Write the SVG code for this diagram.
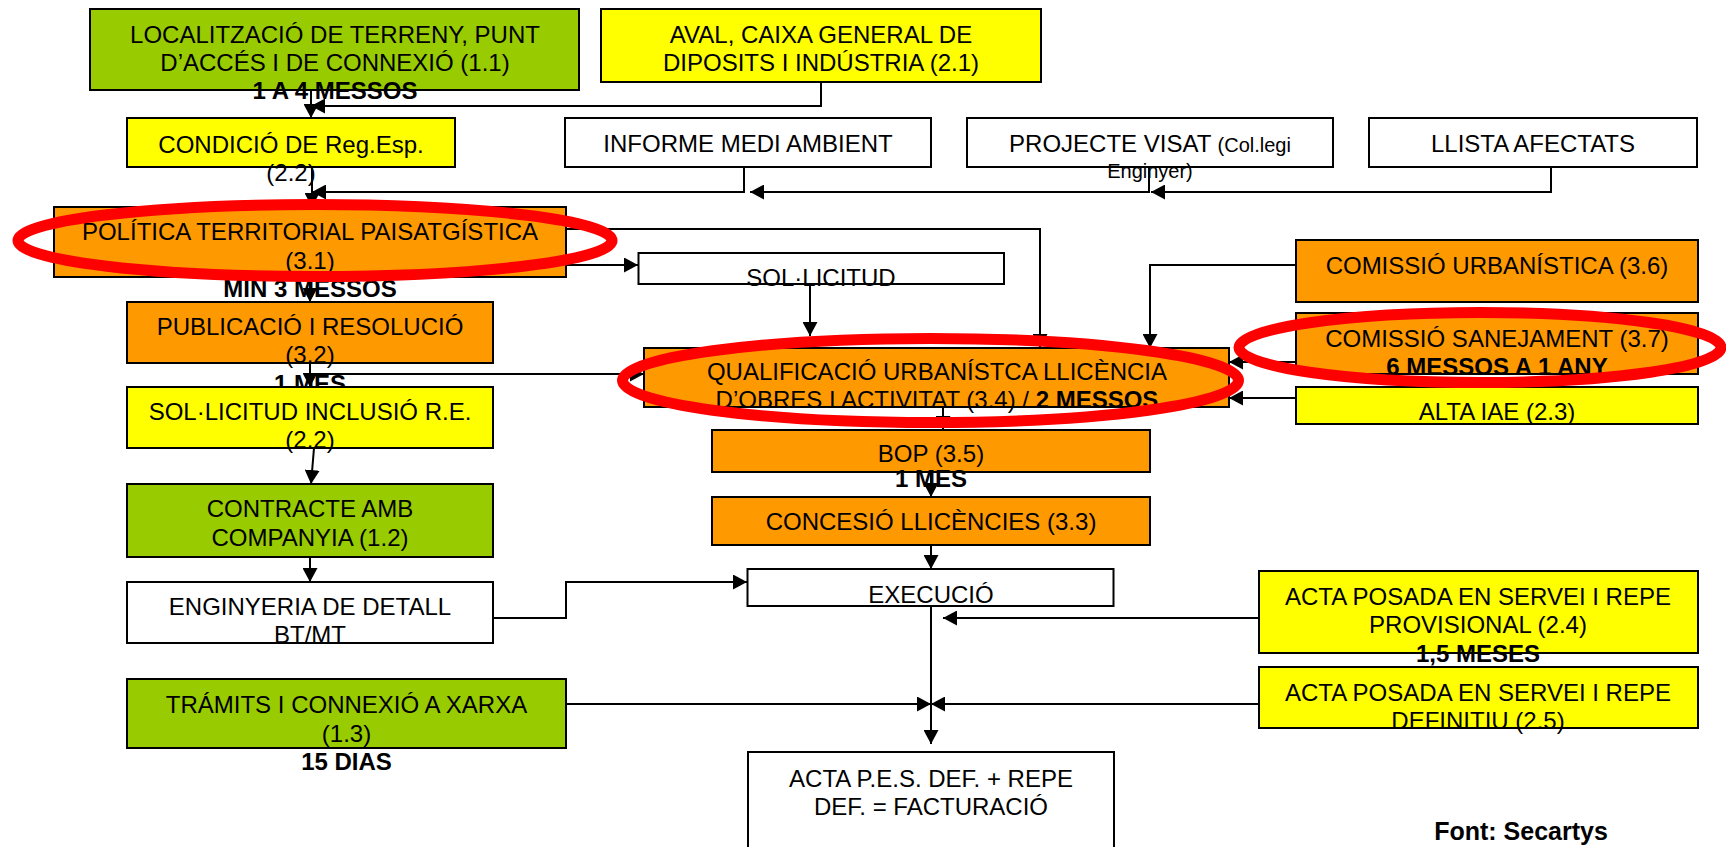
<svg xmlns="http://www.w3.org/2000/svg" width="1726" height="847" viewBox="0 0 1726 847">
<style>
text{font-family:"Liberation Sans",Arial,sans-serif;font-size:24px;fill:#000;text-anchor:middle}
.b{font-weight:bold}
.s{font-size:20px}
rect{stroke:#000;stroke-width:2}
.g{fill:#99CC00}.y{fill:#FFFF00}.o{fill:#FF9900}.w{fill:#FFFFFF}
.c path{fill:none;stroke:#000;stroke-width:2;marker-end:url(#ah)}
.hl{fill:none;stroke:#FF0000;stroke-width:11}
</style>
<defs>
<marker id="ah" markerUnits="userSpaceOnUse" markerWidth="14" markerHeight="15" refX="14" refY="7.5" orient="auto">
<path d="M0,0 L14,7.5 L0,15 z" fill="#000"/>
</marker>
</defs>

<g id="n11"><rect class="g" x="90" y="9" width="489" height="81"/><text x="335" y="43">LOCALITZACIÓ DE TERRENY, PUNT</text><text x="335" y="71">D’ACCÉS I DE CONNEXIÓ (1.1)</text><text class="b" x="335" y="99">1 A 4 MESSOS</text></g>
<g id="n21"><rect class="y" x="601" y="9" width="440" height="73"/><text x="821" y="43">AVAL, CAIXA GENERAL DE</text><text x="821" y="71">DIPOSITS I INDÚSTRIA (2.1)</text></g>
<g id="n22a"><rect class="y" x="127" y="118" width="328" height="49"/><text x="291" y="153">CONDICIÓ DE Reg.Esp.</text><text x="291" y="181">(2.2)</text></g>
<g id="informe"><rect class="w" x="565" y="118" width="366" height="49"/><text x="748" y="152">INFORME MEDI AMBIENT</text></g>
<g id="projecte"><rect class="w" x="967" y="118" width="366" height="49"/><text x="1150" y="152">PROJECTE VISAT <tspan class="s">(Col.legi</tspan></text><text class="s" x="1150" y="178">Enginyer)</text></g>
<g id="llista"><rect class="w" x="1369" y="118" width="328" height="49"/><text x="1533" y="152">LLISTA AFECTATS</text></g>
<g id="n31"><rect class="o" x="54" y="207" width="512" height="70"/><text x="310" y="240">POLÍTICA TERRITORIAL PAISATGÍSTICA</text><text x="310" y="269">(3.1)</text><text class="b" x="310" y="297">MIN 3 MESSOS</text></g>
<g id="sollicitud"><rect class="w" x="638.5" y="253" width="365.5" height="31"/><text x="821" y="286">SOL·LICITUD</text></g>
<g id="n36"><rect class="o" x="1296" y="240" width="402" height="62"/><text x="1497" y="274">COMISSIÓ URBANÍSTICA (3.6)</text></g>
<g id="n32"><rect class="o" x="127" y="302" width="366" height="61"/><text x="310" y="335">PUBLICACIÓ I RESOLUCIÓ</text><text x="310" y="363">(3.2)</text><text class="b" x="310" y="392">1 MES</text></g>
<g id="n37"><rect class="o" x="1296" y="313" width="402" height="61"/><text x="1497" y="347">COMISSIÓ SANEJAMENT (3.7)</text><text class="b" x="1497" y="375">6 MESSOS A 1 ANY</text></g>
<g id="n34"><rect class="o" x="644" y="348" width="585" height="59"/><text x="937" y="380">QUALIFICACIÓ URBANÍSTCA LLICÈNCIA</text><text x="937" y="408">D’OBRES I ACTIVITAT (3.4) / <tspan class="b">2 MESSOS</tspan></text></g>
<g id="n23"><rect class="y" x="1296" y="387" width="402" height="37"/><text x="1497" y="420">ALTA IAE (2.3)</text></g>
<g id="n22b"><rect class="y" x="127" y="387" width="366" height="61"/><text x="310" y="420">SOL·LICITUD INCLUSIÓ R.E.</text><text x="310" y="448">(2.2)</text></g>
<g id="n35"><rect class="o" x="712" y="430" width="438" height="42"/><text x="931" y="462">BOP (3.5)</text><text class="b" x="931" y="487">1 MES</text></g>
<g id="n12"><rect class="g" x="127" y="484" width="366" height="73"/><text x="310" y="517">CONTRACTE AMB</text><text x="310" y="546">COMPANYIA (1.2)</text></g>
<g id="n33"><rect class="o" x="712" y="497" width="438" height="48"/><text x="931" y="530">CONCESIÓ LLICÈNCIES (3.3)</text></g>
<g id="execucio"><rect class="w" x="747.5" y="569" width="366" height="37"/><text x="931" y="603">EXECUCIÓ</text></g>
<g id="n24"><rect class="y" x="1259" y="571" width="439" height="82"/><text x="1478" y="605">ACTA POSADA EN SERVEI I REPE</text><text x="1478" y="633">PROVISIONAL (2.4)</text><text class="b" x="1478" y="662">1,5 MESES</text></g>
<g id="n25"><rect class="y" x="1259" y="667" width="439" height="61"/><text x="1478" y="701">ACTA POSADA EN SERVEI I REPE</text><text x="1478" y="729">DEFINITIU (2.5)</text></g>
<g id="enginyeria"><rect class="w" x="127" y="582" width="366" height="61"/><text x="310" y="615">ENGINYERIA DE DETALL</text><text x="310" y="643">BT/MT</text></g>
<g id="n13"><rect class="g" x="127" y="679" width="439" height="69"/><text x="346.5" y="713">TRÁMITS I CONNEXIÓ A XARXA</text><text x="346.5" y="742">(1.3)</text><text class="b" x="346.5" y="770">15 DIAS</text></g>
<g id="facturacio"><rect class="w" x="748" y="752" width="366" height="110"/><text x="931" y="787">ACTA P.E.S. DEF. + REPE</text><text x="931" y="815">DEF. = FACTURACIÓ</text></g>
<g id="font"><text class="b" x="1521" y="840" style="font-size:25px">Font: Secartys</text></g>

<g id="connectors" class="c">
<path d="M311,90 V118"/>
<path d="M821,82 V106 H311"/>
<path d="M312,167 V207"/>
<path d="M1551,167 V192 H1151"/>
<path d="M1149,167 V192 H750"/>
<path d="M744,167 V192 H312"/>
<path d="M566,265 H638"/>
<path d="M566,229 H1040 V348"/>
<path d="M810,284 V336"/>
<path d="M1296,265 H1150 V348"/>
<path d="M310,277 V302"/>
<path d="M310,363 V387"/>
<path d="M310,374 H644"/>
<path d="M1296,362 H1229"/>
<path d="M1296,398 H1229"/>
<path d="M943,407 V430"/>
<path d="M931,472 V497"/>
<path d="M931,545 V569"/>
<path d="M314,448 L311,484"/>
<path d="M310,557 V582"/>
<path d="M493,618 H566 V582 H747"/>
<path d="M931,606 V744"/>
<path d="M1259,618 H943"/>
<path d="M566,704 H931"/>
<path d="M1259,704 H931"/>
</g>

<g id="highlights">
<ellipse class="hl" cx="315" cy="240.5" rx="297" ry="36"/>
<ellipse class="hl" cx="930.5" cy="380.5" rx="308" ry="42"/>
<ellipse class="hl" cx="1480" cy="347.5" rx="241" ry="35"/>
</g>
</svg>
